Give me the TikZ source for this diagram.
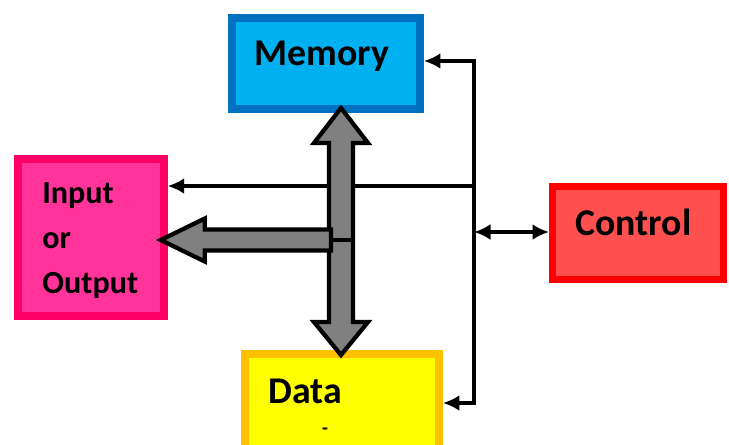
\documentclass[tikz,border=0pt]{standalone}
\usepackage{fontspec}
\setmainfont{Carlito}
\usetikzlibrary{arrows.meta,calc}

\definecolor{membg}{HTML}{00B0F0}
\definecolor{memline}{HTML}{0070C0}
\definecolor{iobg}{HTML}{FF3399}
\definecolor{ioline}{HTML}{FF0066}
\definecolor{databg}{HTML}{FFFF00}
\definecolor{dataline}{HTML}{FFC000}
\definecolor{ctlbg}{HTML}{FF5050}
\definecolor{ctlline}{HTML}{FF0000}

\begin{document}
\begin{tikzpicture}[
  x=0.02cm,y=-0.02cm,
  unit/.style={draw,inner sep=0pt,line width=0.16cm},
  lbl/.style={font=\fontsize{21.5}{26}\selectfont\bfseries,inner sep=0pt},
  wire/.style={line width=0.07cm,black,line join=miter},
  tip/.style={-{Latex[length=0.33cm,width=0.32cm]}},
  tips/.style={{Latex[length=0.33cm,width=0.32cm]}-{Latex[length=0.33cm,width=0.32cm]}},
  fat/.style={draw=black,fill=gray,line width=0.085cm,line join=miter}
]
  \useasboundingbox (0,0) rectangle (729,444);

  % the four units
  \node[unit,draw=memline,fill=membg,minimum width=3.76cm,minimum height=1.82cm] (mem) at (326,63.5) {};
  \node[unit,draw=ioline,fill=iobg,line width=0.15cm,minimum width=2.92cm,minimum height=3.14cm] (io) at (91,237.5) {};
  \node[unit,draw=dataline,fill=databg,minimum width=3.88cm,minimum height=2.24cm] (data) at (342,410) {};
  \node[unit,draw=ctlline,fill=ctlbg,line width=0.14cm,minimum width=3.42cm,minimum height=1.86cm] (ctl) at (638,233) {};

  \node[lbl,anchor=base] (memtxt) at (322,65) {Memory};
  \node[lbl,anchor=base] (ctltxt) at (633.5,235) {Control};
  \node[lbl,anchor=base] (datatxt) at (305,403) {Data};
  \node[font=\fontsize{11}{13}\selectfont\bfseries,inner sep=0pt] (datadash) at (325,431) {-};
  \node[lbl,font=\fontsize{18.3}{25.6}\selectfont\bfseries,align=left,anchor=north west] (iotxt) at (42,182) {Input\\or\\Output};

  % control lines
  \coordinate (ctop) at (474,61);
  \coordinate (cbot) at (474,403);
  \coordinate (cio) at (474,186);
  \coordinate (cctl) at (474,232);
  \draw[wire,tips] (mem.east |- ctop) -- (ctop) -- (cbot) -- (data.east |- cbot);
  \draw[wire,tip] (cio) -- (io.east |- cio);
  \draw[wire,tips] (cctl) -- (ctl.west |- cctl);

  % data bus between memory and data
  \coordinate (bus) at (341,240);
  \coordinate (bustop) at ($(mem.south -| bus)+(0,-5)$);
  \coordinate (busbot) at ($(data.north -| bus)+(0,5)$);
  \draw[fat] (bustop) -- ++(27,35) -- ++(-15,0) -- ($(busbot)+(12,-33)$) -- ++(15,0)
    -- (busbot) -- ++(-27,-33) -- ++(15,0) -- ($(bustop)+(-12,35)$) -- ++(-15,0) -- cycle;

  % branch to input/output
  \coordinate (iotip) at ($(io.east |- bus)+(-7,0)$);
  \draw[fat] (iotip) -- ++(44,-21.5) -- ++(0,11) -- ($(bus)+(-10,-10.5)$) -- ++(0,21)
    -- ($(iotip)+(44,10.5)$) -- ++(0,11) -- cycle;
  \draw[wire] ($(bus)+(-10,0)$) -- ++(24,0);
\end{tikzpicture}
\end{document}
